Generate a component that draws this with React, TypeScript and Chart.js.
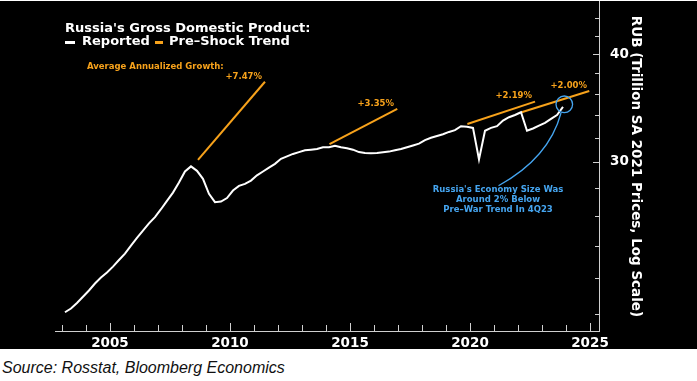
import React, { useEffect, useRef } from "react";
import { Chart, registerables } from "chart.js";

Chart.register(...registerables);

// ---------- data ----------
const years = [2003, 2004, 2005, 2006, 2007, 2008, 2009, 2010, 2011, 2012, 2013, 2014, 2015, 2016, 2017, 2018, 2019, 2020, 2021, 2022, 2023];
const quarterNames = ["Q1", "Q2", "Q3", "Q4"];
const quarters = years.flatMap((y) => quarterNames.map((q) => `${y}${q}`));

// Real GDP, RUB trillion (SA, 2021 prices), quarterly
const gdpReported = [
  20.1, 20.3, 20.6, 20.95,
  21.3, 21.7, 22.05, 22.35,
  22.7, 23.1, 23.5, 24.0,
  24.5, 24.98, 25.47, 25.9,
  26.45, 27.05, 27.65, 28.4,
  29.25, 29.65, 29.3, 28.68,
  27.56, 26.95, 27.0, 27.25,
  27.8, 28.15, 28.3, 28.55,
  28.95, 29.25, 29.55, 29.85,
  30.25, 30.45, 30.65, 30.8,
  30.95, 31.0, 31.05, 31.2,
  31.2, 31.33, 31.2, 31.12,
  31.0, 30.8, 30.72, 30.7,
  30.72, 30.78, 30.84, 30.95,
  31.05, 31.2, 31.35, 31.5,
  31.8, 32.0, 32.15, 32.3,
  32.5, 32.65, 33.0, 32.95,
  32.85, 30.2, 32.6, 32.85,
  33.0, 33.5, 33.8, 34.0,
  34.25, 32.6, 32.8, 33.05,
  33.3, 33.65, 34.0, 34.75,
];

// Pre-shock trend segments
const trendStartYear = [2008.667, 2014.146, 2019.89, 2022.15];
const trendStartValue = [30.16, 31.47, 33.19, 34.25];
const trendEndYear = [2011.458, 2016.97, 2022.71, 2024.97];
const trendEndValue = [37.15, 34.55, 35.23, 36.24];
const trendGrowthLabels = ["+7.47%", "+3.35%", "+2.19%", "+2.00%"];

const xTickYears = [2005, 2010, 2015, 2020, 2025];
const xMinorYears = [2003, 2004, 2005, 2006, 2007, 2008, 2009, 2010, 2011, 2012, 2013, 2014, 2015, 2016, 2017, 2018, 2019, 2020, 2021, 2022, 2023, 2024, 2025];
const yTickValues = [30, 40];
const yMinorValues = [20, 22, 24, 26, 28, 30, 32, 34, 36, 38, 40, 42, 44];

const WHITE = "#ffffff";
const ORANGE = "#f7a21b";
const BLUE = "#45a5f0";
const AXIS = "#d0d0d0";
const FONT = '"DejaVu Sans", Verdana, sans-serif';

function quarterToYear(label: string): number {
  const y = parseInt(label.slice(0, 4), 10);
  const q = parseInt(label.slice(5), 10);
  return y + (q - 0.5) / 4;
}

function zeroPadding(s: any) {
  s.paddingTop = 0;
  s.paddingBottom = 0;
  s.paddingLeft = 0;
  s.paddingRight = 0;
}

const overlayPlugin = {
  id: "overlay",
  afterDatasetsDraw(chart: any) {
    const ctx = chart.ctx as CanvasRenderingContext2D;
    const xs = chart.scales.x;
    const ys = chart.scales.y;
    const area = chart.chartArea;
    ctx.save();

    // tick marks (inside plot area)
    ctx.strokeStyle = AXIS;
    ctx.lineWidth = 1;
    xMinorYears.forEach((yr) => {
      const px = Math.round(xs.getPixelForValue(yr)) + 0.5;
      const len = xTickYears.includes(yr) ? 8 : 6;
      ctx.beginPath();
      ctx.moveTo(px, area.bottom);
      ctx.lineTo(px, area.bottom - len);
      ctx.stroke();
    });
    yMinorValues.forEach((v) => {
      const py = Math.round(ys.getPixelForValue(v)) + 0.5;
      const len = yTickValues.includes(v) ? 6 : 4;
      ctx.beginPath();
      ctx.moveTo(area.right, py);
      ctx.lineTo(area.right - len, py);
      ctx.stroke();
    });

    // title + legend
    ctx.textBaseline = "middle";
    ctx.textAlign = "left";
    ctx.fillStyle = WHITE;
    ctx.font = `bold 13px ${FONT}`;
    ctx.fillText("Russia's Gross Domestic Product:", 65, 28);
    ctx.fillRect(65, 40, 10, 3);
    ctx.fillText("Reported", 82, 41);
    ctx.fillStyle = ORANGE;
    ctx.fillRect(155, 40, 8, 3);
    ctx.fillStyle = WHITE;
    ctx.fillText("Pre\u2013Shock Trend", 169, 41);

    // growth annotations
    ctx.fillStyle = ORANGE;
    ctx.font = `bold 8.5px ${FONT}`;
    ctx.fillText("Average Annualized Growth:", 87, 66);
    const labelPos = [
      [262, 76],
      [394, 103],
      [532, 95],
      [587, 84.7],
    ];
    ctx.textAlign = "right";
    trendGrowthLabels.forEach((t, i) => {
      ctx.fillText(t, labelPos[i][0], labelPos[i][1]);
    });

    // blue callout
    ctx.strokeStyle = BLUE;
    ctx.lineWidth = 1.3;
    ctx.beginPath();
    ctx.arc(564.3, 103.3, 8.3, 0, Math.PI * 2);
    ctx.stroke();
    ctx.beginPath();
    ctx.moveTo(561, 112);
    ctx.quadraticCurveTo(549, 157, 498.5, 184.7);
    ctx.stroke();
    ctx.fillStyle = BLUE;
    ctx.textAlign = "center";
    ctx.font = `bold 8.5px ${FONT}`;
    ctx.fillText("Russia's Economy Size Was", 498, 189);
    ctx.fillText("Around 2% Below", 498, 199);
    ctx.fillText("Pre\u2013War Trend In 4Q23", 498, 209);

    // right axis title
    ctx.save();
    ctx.translate(635, 165.5);
    ctx.rotate(Math.PI / 2);
    ctx.fillStyle = WHITE;
    ctx.font = `bold 13.5px ${FONT}`;
    ctx.textAlign = "center";
    ctx.fillText("RUB (Trillion SA 2021 Prices, Log Scale)", 0, 0);
    ctx.restore();

    ctx.restore();
  },
};

export default function App() {
  const ref = useRef<HTMLCanvasElement>(null);

  useEffect(() => {
    document.body.style.margin = "0";
    const canvas = ref.current;
    if (!canvas) return;

    const reported = quarters.map((q, i) => ({ x: quarterToYear(q), y: gdpReported[i] }));
    const trendSets = trendStartYear.map((sy, i) => ({
      label: `Trend ${trendGrowthLabels[i]}`,
      data: [
        { x: sy, y: trendStartValue[i] },
        { x: trendEndYear[i], y: trendEndValue[i] },
      ],
      borderColor: ORANGE,
      borderWidth: 2,
      pointRadius: 0,
      fill: false,
    }));

    const chart = new Chart(canvas, {
      type: "line",
      data: {
        datasets: [
          {
            label: "Reported",
            data: reported,
            borderColor: WHITE,
            borderWidth: 2,
            pointRadius: 0,
            tension: 0,
            fill: false,
          },
          ...trendSets,
        ],
      },
      options: {
        animation: false,
        responsive: false,
        devicePixelRatio: 1,
        layout: { padding: { left: 55, top: 0, right: 0, bottom: 0 } },
        plugins: {
          legend: { display: false },
          tooltip: { enabled: false },
          title: { display: false },
        },
        scales: {
          x: {
            type: "linear",
            position: "bottom",
            min: 2002.71,
            max: 2025.375,
            afterFit: (s: any) => {
              s.height = 18;
              zeroPadding(s);
            },
            afterBuildTicks: (s: any) => {
              s.ticks = xTickYears.map((v) => ({ value: v }));
            },
            grid: { display: false },
            border: { display: true, color: AXIS, width: 1 },
            ticks: {
              color: WHITE,
              font: { family: FONT, weight: "bold", size: 13.5 },
              padding: -4,
              maxRotation: 0,
              autoSkip: false,
              callback: (v: any) => String(v),
            },
          },
          y: {
            type: "logarithmic",
            position: "right",
            min: 19.12,
            max: 46.07,
            afterFit: (s: any) => {
              s.width = 98;
              zeroPadding(s);
            },
            afterBuildTicks: (s: any) => {
              s.ticks = yTickValues.map((v) => ({ value: v }));
            },
            grid: { display: false },
            border: { display: true, color: AXIS, width: 1 },
            ticks: {
              color: WHITE,
              font: { family: FONT, weight: "bold", size: 13.5 },
              padding: 3,
              autoSkip: false,
              callback: (v: any) => String(v),
            },
          },
        },
      },
      plugins: [overlayPlugin],
    } as any);

    return () => chart.destroy();
  }, []);

  return (
    <div style={{ position: "relative", width: 697, height: 381, background: "#fff", overflow: "hidden" }}>
      <div style={{ position: "absolute", left: 0, top: 1, width: 697, height: 348, background: "#000" }}>
        <canvas ref={ref} width={697} height={348} style={{ display: "block", width: 697, height: 348 }} />
      </div>
      <div
        style={{
          position: "absolute",
          left: 2,
          top: 359,
          fontFamily: '"Liberation Sans", Arial, sans-serif',
          fontStyle: "italic",
          fontSize: 16,
          lineHeight: "18px",
          color: "#111",
          whiteSpace: "nowrap",
        }}
      >
        Source: Rosstat, Bloomberg Economics
      </div>
    </div>
  );
}
